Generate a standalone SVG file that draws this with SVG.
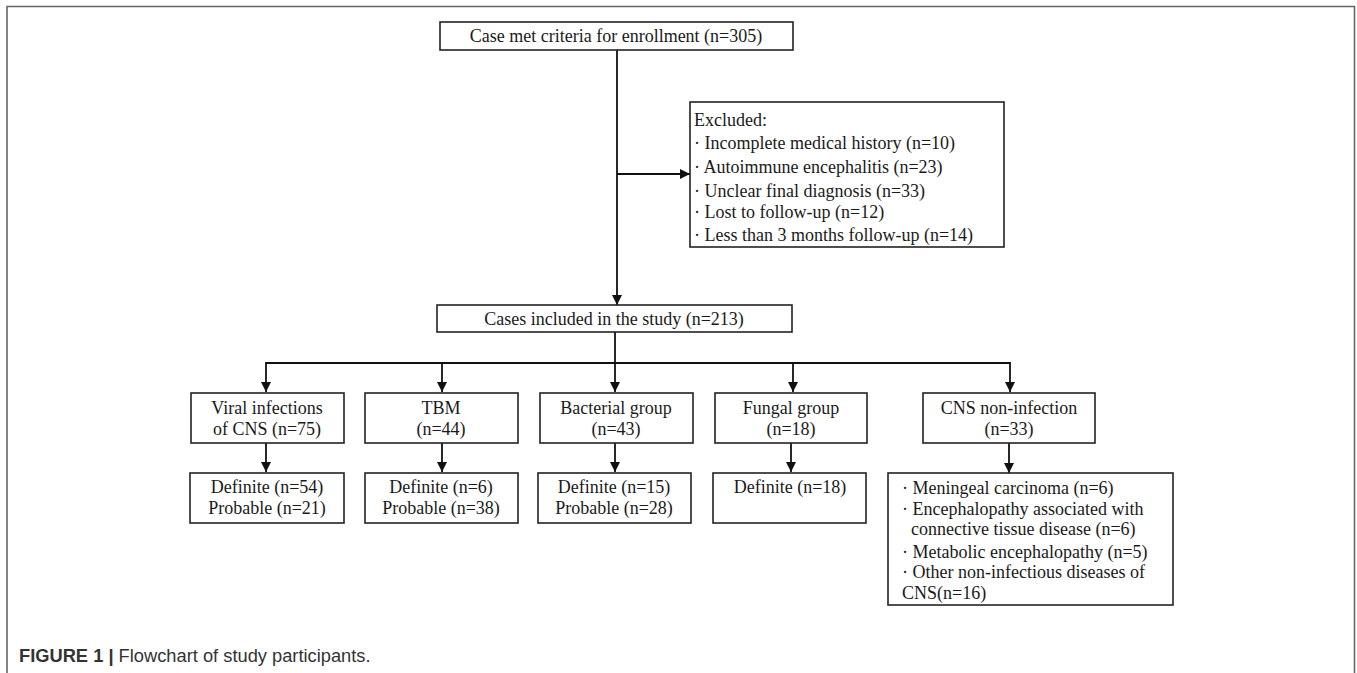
<svg xmlns="http://www.w3.org/2000/svg" width="1357" height="673" viewBox="0 0 1357 673">
<defs>
<style>
.box{fill:#fff;stroke:#222;stroke-width:1.6}
.t{font-family:"Liberation Serif","Times New Roman",serif;font-size:18px;fill:#1a1a1a}
.c{text-anchor:middle}
.ln{stroke:#111;stroke-width:1.8;fill:none}
.cap{font-family:"Liberation Sans",Arial,sans-serif;font-size:18.3px;fill:#333}
</style>
<marker id="ah" viewBox="0 0 10 10" refX="10" refY="5" markerWidth="10" markerHeight="10" markerUnits="userSpaceOnUse" orient="auto">
<path d="M0,0 L10,5 L0,10 z" fill="#111"/>
</marker>
</defs>
<rect width="1357" height="673" fill="#fff"/>
<path d="M7,680 V6.5 H1354.5 V680" fill="none" stroke="#666" stroke-width="1.6"/>

<g id="connectors">
<line class="ln" x1="617" y1="50" x2="617" y2="305" marker-end="url(#ah)"/>
<line class="ln" x1="617" y1="174" x2="690" y2="174" marker-end="url(#ah)"/>
<line class="ln" x1="615" y1="332" x2="615" y2="392" marker-end="url(#ah)"/>
<line class="ln" x1="266" y1="363" x2="1010" y2="363"/>
<line class="ln" x1="266" y1="362" x2="266" y2="392" marker-end="url(#ah)"/>
<line class="ln" x1="442" y1="362" x2="442" y2="392" marker-end="url(#ah)"/>
<line class="ln" x1="793" y1="362" x2="793" y2="392" marker-end="url(#ah)"/>
<line class="ln" x1="1010" y1="362" x2="1010" y2="392" marker-end="url(#ah)"/>
<line class="ln" x1="266" y1="443" x2="266" y2="472" marker-end="url(#ah)"/>
<line class="ln" x1="442" y1="443" x2="442" y2="472" marker-end="url(#ah)"/>
<line class="ln" x1="615" y1="443" x2="615" y2="472" marker-end="url(#ah)"/>
<line class="ln" x1="791" y1="443" x2="791" y2="472" marker-end="url(#ah)"/>
<line class="ln" x1="1009" y1="443" x2="1009" y2="473" marker-end="url(#ah)"/>
</g>

<g id="enrolled">
<rect class="box" x="440" y="22" width="353" height="28"/>
<text class="t c" x="616" y="42">Case met criteria for enrollment (n=305)</text>
</g>

<g id="excluded">
<rect class="box" x="690" y="102" width="314" height="145"/>
<text class="t" x="694" y="126">Excluded:</text>
<text class="t" x="694" y="149">· Incomplete medical history (n=10)</text>
<text class="t" x="694" y="173">· Autoimmune encephalitis (n=23)</text>
<text class="t" x="694" y="197">· Unclear final diagnosis (n=33)</text>
<text class="t" x="694" y="218">· Lost to follow-up (n=12)</text>
<text class="t" x="694" y="241">· Less than 3 months follow-up (n=14)</text>
</g>

<g id="included">
<rect class="box" x="437" y="305" width="355" height="27"/>
<text class="t c" x="614" y="325">Cases included in the study (n=213)</text>
</g>

<g id="viral">
<rect class="box" x="191" y="393" width="153" height="50"/>
<text class="t c" x="267" y="414">Viral infections</text>
<text class="t c" x="267" y="435">of CNS (n=75)</text>
</g>
<g id="tbm">
<rect class="box" x="365" y="393" width="153" height="50"/>
<text class="t c" x="441" y="414">TBM</text>
<text class="t c" x="441" y="435">(n=44)</text>
</g>
<g id="bacterial">
<rect class="box" x="540" y="393" width="153" height="50"/>
<text class="t c" x="616" y="414">Bacterial group</text>
<text class="t c" x="616" y="435">(n=43)</text>
</g>
<g id="fungal">
<rect class="box" x="715" y="393" width="152" height="50"/>
<text class="t c" x="791" y="414">Fungal group</text>
<text class="t c" x="791" y="435">(n=18)</text>
</g>
<g id="noninfection">
<rect class="box" x="923" y="393" width="172" height="50"/>
<text class="t c" x="1009" y="414">CNS non-infection</text>
<text class="t c" x="1009" y="435">(n=33)</text>
</g>

<g id="viral-detail">
<rect class="box" x="190" y="473" width="154" height="50"/>
<text class="t c" x="267" y="493">Definite (n=54)</text>
<text class="t c" x="267" y="514">Probable (n=21)</text>
</g>
<g id="tbm-detail">
<rect class="box" x="365" y="473" width="153" height="50"/>
<text class="t c" x="441" y="493">Definite (n=6)</text>
<text class="t c" x="441" y="514">Probable (n=38)</text>
</g>
<g id="bacterial-detail">
<rect class="box" x="538" y="473" width="153" height="50"/>
<text class="t c" x="614" y="493">Definite (n=15)</text>
<text class="t c" x="614" y="514">Probable (n=28)</text>
</g>
<g id="fungal-detail">
<rect class="box" x="713" y="473" width="153" height="50"/>
<text class="t c" x="790" y="493">Definite (n=18)</text>
</g>
<g id="noninfection-detail">
<rect class="box" x="888" y="473" width="285" height="132"/>
<text class="t" x="902" y="494">· Meningeal carcinoma (n=6)</text>
<text class="t" x="902" y="515">· Encephalopathy associated with</text>
<text class="t" x="911" y="535">connective tissue disease (n=6)</text>
<text class="t" x="902" y="558">· Metabolic encephalopathy (n=5)</text>
<text class="t" x="902" y="578">· Other non-infectious diseases of</text>
<text class="t" x="902" y="599">CNS(n=16)</text>
</g>

<text class="cap" x="19" y="662"><tspan font-weight="bold">FIGURE 1 |</tspan> Flowchart of study participants.</text>
</svg>
